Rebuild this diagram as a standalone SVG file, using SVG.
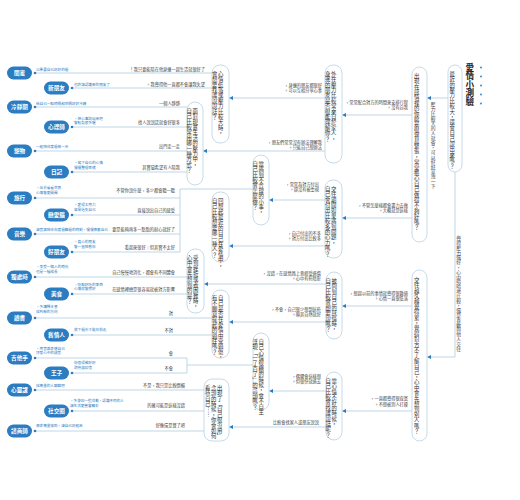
<svg xmlns="http://www.w3.org/2000/svg" width="520" height="500" viewBox="0 0 520 500">
<defs>
<marker id="arr" markerWidth="4" markerHeight="4" refX="3.6" refY="2" orient="auto" markerUnits="userSpaceOnUse">
<path d="M0,0 L4,2 L0,4 z" fill="#2b7cc1"/>
</marker>
<style>
text{font-family:"Noto Sans CJK TC","Noto Sans CJK SC","Noto Sans",sans-serif;}
.ln{fill:none;stroke:#aecbe1;stroke-width:0.8;}
.ar{marker-end:url(#arr);}
.nd{fill:#fff;stroke:#b7d0e3;stroke-width:0.8;}
.v{writing-mode:vertical-rl;font-size:5.4px;fill:#333;transform:translate(-2.7px,0);}
.vl{writing-mode:vertical-rl;font-size:4.8px;fill:#444;transform:translate(-2.4px,0);}
.r{direction:rtl;unicode-bidi:bidi-override;}
.lb{font-size:4.2px;fill:#444;}
.bl{font-size:3.6px;fill:#2b7cc1;}
.bd{fill:#2b7cc1;}
.bt{font-size:5.6px;font-weight:bold;fill:#fff;text-anchor:middle;}
.dot{fill:#2b7cc1;}
.title{writing-mode:vertical-rl;font-size:8.6px;font-weight:bold;fill:#222;transform:translate(-4.3px,0);}
</style>
</defs>
<rect width="520" height="500" fill="#fff"/>

<g id="title">
<text class="title" x="474" y="63">愛情小測驗</text>
<circle class="dot" cx="481" cy="67.5" r="0.9"/>
<circle class="dot" cx="481" cy="76.5" r="0.9"/>
<circle class="dot" cx="481" cy="85.5" r="0.9"/>
<circle class="dot" cx="481" cy="94.5" r="0.9"/>
<circle class="dot" cx="481" cy="103.5" r="0.9"/>
</g>

<g id="connectors">
<path class="ln ar" d="M448,98 H427.5"/>
<path class="ln ar" d="M455,172 V357 H427.5"/>
<path class="ln ar" d="M412,115 H342.5"/>
<path class="ln ar" d="M412,218 H342.5"/>
<path class="ln ar" d="M412,306 H342.5"/>
<path class="ln ar" d="M412,411 H342.5"/>
<path class="ln ar" d="M325,98 H229.5"/>
<path class="ln ar" d="M325,151 H203.5"/>
<path class="ln ar" d="M325,200 H269.5"/>
<path class="ln ar" d="M325,246 H229.5"/>
<path class="ln ar" d="M326,284 H204.5"/>
<path class="ln ar" d="M326,322 H229.5"/>
<path class="ln ar" d="M326,391 H269.5"/>
<path class="ln ar" d="M326,427 H229.5"/>
<path class="ln" d="M212,73 H35 M212,88 H72"/>
<path class="ln" d="M187,107 H35 M187,127 H72 M187,151 H35 M187,172 H72"/>
<path class="ln" d="M253,189 H180 V252 M180,198 H35 M180,215 H72 M180,234 H35 M180,252 H72"/>
<path class="ln" d="M187,277 H35 M187,294 H72"/>
<path class="ln" d="M212,318 H35 M212,335 H72"/>
<path class="ln" d="M253,365 H187 M187,358 V373 M187,358 H35 M187,373 H72"/>
<path class="ln" d="M204,390 H35 M204,411 H72 M204,431 H35"/>
<g class="dot">
<circle cx="35" cy="73" r="1.3"/><circle cx="72" cy="88" r="1.3"/>
<circle cx="35" cy="107" r="1.3"/><circle cx="72" cy="127" r="1.3"/>
<circle cx="35" cy="151" r="1.3"/><circle cx="72" cy="172" r="1.3"/>
<circle cx="35" cy="198" r="1.3"/><circle cx="72" cy="215" r="1.3"/>
<circle cx="35" cy="234" r="1.3"/><circle cx="72" cy="252" r="1.3"/>
<circle cx="35" cy="277" r="1.3"/><circle cx="72" cy="294" r="1.3"/>
<circle cx="35" cy="318" r="1.3"/><circle cx="72" cy="335" r="1.3"/>
<circle cx="35" cy="358" r="1.3"/><circle cx="72" cy="373" r="1.3"/>
<circle cx="35" cy="390" r="1.3"/><circle cx="72" cy="411" r="1.3"/>
<circle cx="35" cy="431" r="1.3"/>
</g>
<text class="vl" x="435.5" y="102">壓力比較大的人就會，可以好好宣洩一下</text>
<text class="vl" x="461" y="236">覺得壓力還好，心中暗暗地比較，還是喜歡與他人交往</text>
<g class="lb r">
<text x="408" y="104">常常配合對方的時間來安排行程，</text>
<text x="408" y="109">沒有自我。</text>
<text x="408" y="207">不管怎麼樣都會盡力去做，</text>
<text x="408" y="212">大概就是這樣。</text>
<text x="408" y="295">想起以前的事情就覺得很難過，</text>
<text x="408" y="300">心情一直很低落。</text>
<text x="408" y="400">一直都覺得很寂寞，</text>
<text x="408" y="406">不想被別人打擾。</text>
<text x="322" y="87">身邊的朋友都很好，</text>
<text x="322" y="92">可以互相分享心事。</text>
<text x="322" y="144">朋友們常常沒有辦法理解我，</text>
<text x="322" y="149">只能自己想辦法。</text>
<text x="319" y="186">常常為對方付出，</text>
<text x="319" y="191">卻沒有被重視。</text>
<text x="321" y="235">自己付出的不多，</text>
<text x="321" y="240">對方付出比較多。</text>
<text x="321" y="275">沒錯，在感情路上曾經受過傷，</text>
<text x="321" y="280">心中有些陰影。</text>
<text x="321" y="311">不會，自己很少想到這些，</text>
<text x="321" y="316">順其自然就好。</text>
<text x="321" y="378">偶爾會這樣想，</text>
<text x="321" y="383">但很快就過去。</text>
<text x="319" y="424">比較會找家人或朋友說說</text>
<text x="205" y="70.5">我只要能陪在他身邊一起生活就很好了！</text>
<text x="205" y="85.5">我覺得他一直都不會讓我失望。</text>
<text x="180" y="104.5">一個人靜靜</text>
<text x="180" y="124">找人說說話就會好很多</text>
<text x="180" y="148">出門走一走</text>
<text x="180" y="169">其實蠻希望有人陪我</text>
<text x="175" y="192">不管你說什麼，多少都會聽一聽</text>
<text x="175" y="212">直接說出自己的感受</text>
<text x="175" y="231">要是能夠再多一點點的耐心就好了</text>
<text x="175" y="249">看起來很好｜但其實不太好</text>
<text x="175" y="274">自己慢慢地消化，都會有不同體會</text>
<text x="175" y="291">在感情裡總是很容易就被對方影響</text>
<text x="173" y="315">對</text>
<text x="173" y="332">不對</text>
<text x="173" y="355">會</text>
<text x="173" y="370">不會</text>
<text x="185" y="387">不是，我只是比較倒楣</text>
<text x="185" y="407">的確可能是這樣沒錯</text>
<text x="185" y="427">好像還是算了吧</text>
</g>
<g class="bl r" text-anchor="end">
<text x="36" y="70.5">以後要自己好好的過</text>
<text x="74" y="85.5">也許該認識新的朋友了</text>
<text x="36" y="104.5">給自己一點時間和空間好好冷靜</text>
<text x="74" y="120">把心事說出來吧，</text>
<text x="74" y="124">會輕鬆很多喔</text>
<text x="36" y="148">一起陪伴度過每一天</text>
<text x="74" y="164">寫下自己的心情，</text>
<text x="74" y="168.5">慢慢整理思緒</text>
<text x="36" y="189">出去看看世界，</text>
<text x="36" y="193.5">心情會更開闊</text>
<text x="74" y="206">愛得太用力，</text>
<text x="74" y="210.5">容易迷失自己</text>
<text x="36" y="231">讓音樂陪伴你度過難過的時刻，慢慢療癒自己</text>
<text x="74" y="243">真心的朋友，</text>
<text x="74" y="247.5">會一直陪著你</text>
<text x="36" y="268">享受一個人的時光，</text>
<text x="36" y="272.5">也是一種成長</text>
<text x="74" y="285.5">吃點好吃的東西，</text>
<text x="74" y="290">心情就會變好</text>
<text x="36" y="308">多讀幾本書，</text>
<text x="36" y="312.5">找到新的方向</text>
<text x="74" y="331">放下過去才能往前走</text>
<text x="36" y="349.5">用音樂表達自己，</text>
<text x="36" y="354">抒發心中的感受</text>
<text x="74" y="364">你值得被好好</text>
<text x="74" y="368.5">對待與珍惜</text>
<text x="36" y="387">找專業的人聊聊吧</text>
<text x="70" y="402">多參加一些活動，認識不同的人，</text>
<text x="70" y="406.5">讓生活更豐富精彩</text>
<text x="36" y="427">尋求專業協助，讓自己好起來</text>
</g>
</g>

<g id="nodeA"><rect class="nd" x="448" y="65" width="14" height="107" rx="7"/><text class="v" x="455" y="71">最近的壓力比較大，還會自己說出來嗎？</text></g>
<g id="nodeB"><rect class="nd" x="412" y="67" width="15" height="175" rx="7.5"/><text class="v" x="419.5" y="73">出現在感情裡的你總是很容易緊張，常常擔心自己做得不夠好嗎？</text></g>
<g id="nodeC"><rect class="nd" x="412" y="270" width="15" height="171" rx="7.5"/><text class="v" x="419.5" y="277">交往越久越覺得累，覺得對方不了解自己，心中會先想到別人嗎？</text></g>
<g id="nodeD"><rect class="nd" x="325" y="65" width="17" height="98" rx="8"/><text class="v" x="336.5" y="71">外在壓力比較常來自於家人，</text><text class="v" x="330.5" y="71">身邊的朋友是否很能理解你？</text></g>
<g id="nodeE"><rect class="nd" x="325" y="180" width="17" height="78" rx="8"/><text class="v" x="336.5" y="186">交往期間如果遇到問題，</text><text class="v" x="330.5" y="186">自己會付出比較多的心力嗎？</text></g>
<g id="nodeF"><rect class="nd" x="326" y="272" width="16" height="67" rx="8"/><text class="v" x="337" y="278">被問到自己的感情時，</text><text class="v" x="331" y="278">自己比較會想要說嗎？</text></g>
<g id="nodeG"><rect class="nd" x="326" y="372" width="16" height="68" rx="8"/><text class="v" x="337" y="378">當心情不好的時候，</text><text class="v" x="331" y="378">自己比較會找誰說話呢？</text></g>
<g id="nodeH"><rect class="nd" x="212" y="65" width="17" height="78" rx="8"/><text class="v" x="223.5" y="71">心情低落或壓力比較大時，</text><text class="v" x="217.5" y="71">會想要找誰說說話？</text></g>
<g id="nodeI"><rect class="nd" x="187" y="102" width="16" height="83" rx="8"/><text class="v" x="198" y="108">面對現實生活的壓力中，</text><text class="v" x="192" y="108">自己比較常用哪一種方式？</text></g>
<g id="nodeJ"><rect class="nd" x="253" y="155" width="16" height="70" rx="8"/><text class="v" x="264" y="161">當遇到不合理的小事，</text><text class="v" x="258" y="161">自己比較會怎麼做？</text></g>
<g id="nodeK"><rect class="nd" x="212" y="192" width="17" height="70" rx="8"/><text class="v" x="223.5" y="198">回想起最近的自己在愛情中，</text><text class="v" x="217.5" y="198">自己比較想要哪一種人？</text></g>
<g id="nodeL"><rect class="nd" x="187" y="249" width="17" height="64" rx="8"/><text class="v" x="198.5" y="255">受到挫折或者困難時，</text><text class="v" x="192.5" y="255">心中會先想到的是？</text></g>
<g id="nodeM"><rect class="nd" x="212" y="290" width="17" height="68" rx="8"/><text class="v" x="223.5" y="295">自己是否在愛情中受過傷，</text><text class="v" x="217.5" y="295">有不願意提起的過往嗎？</text></g>
<g id="nodeN"><rect class="nd" x="253" y="333" width="16" height="77" rx="8"/><text class="v" x="264" y="339">自己心情很糟的時候，會不自主</text><text class="v" x="258" y="339">浮現「一了百了」的念頭嗎？</text></g>
<g id="nodeO"><rect class="nd" x="204" y="379" width="25" height="62" rx="8"/><text class="v" x="222.5" y="385">出現了「自己很沒用」</text><text class="v" x="216.5" y="385">念頭的時候，你會如何</text><text class="v" x="210.5" y="385">看待自己……</text></g>

<g id="r1"><rect class="bd" x="7" y="66.5" width="25" height="13" rx="6.5"/><text class="bt" x="19.5" y="75">閨蜜</text></g>
<g id="r2"><rect class="bd" x="44" y="81.5" width="25" height="13" rx="6.5"/><text class="bt" x="56.5" y="90">新朋友</text></g>
<g id="r3"><rect class="bd" x="7" y="100.5" width="25" height="13" rx="6.5"/><text class="bt" x="19.5" y="109">冷靜期</text></g>
<g id="r4"><rect class="bd" x="44" y="120.5" width="25" height="13" rx="6.5"/><text class="bt" x="56.5" y="129">心理師</text></g>
<g id="r5"><rect class="bd" x="7" y="144.5" width="25" height="13" rx="6.5"/><text class="bt" x="19.5" y="153">寵物</text></g>
<g id="r6"><rect class="bd" x="44" y="165.5" width="25" height="13" rx="6.5"/><text class="bt" x="56.5" y="174">日記</text></g>
<g id="r7"><rect class="bd" x="7" y="191.5" width="25" height="13" rx="6.5"/><text class="bt" x="19.5" y="200">旅行</text></g>
<g id="r8"><rect class="bd" x="44" y="208.5" width="25" height="13" rx="6.5"/><text class="bt" x="56.5" y="217">戀愛腦</text></g>
<g id="r9"><rect class="bd" x="7" y="227.5" width="25" height="13" rx="6.5"/><text class="bt" x="19.5" y="236">音樂</text></g>
<g id="r10"><rect class="bd" x="44" y="245.5" width="25" height="13" rx="6.5"/><text class="bt" x="56.5" y="254">好朋友</text></g>
<g id="r11"><rect class="bd" x="7" y="270.5" width="25" height="13" rx="6.5"/><text class="bt" x="19.5" y="279">獨處時</text></g>
<g id="r12"><rect class="bd" x="44" y="287.5" width="25" height="13" rx="6.5"/><text class="bt" x="56.5" y="296">美食</text></g>
<g id="r13"><rect class="bd" x="7" y="311.5" width="25" height="13" rx="6.5"/><text class="bt" x="19.5" y="320">讀書</text></g>
<g id="r14"><rect class="bd" x="44" y="328.5" width="25" height="13" rx="6.5"/><text class="bt" x="56.5" y="337">舊情人</text></g>
<g id="r15"><rect class="bd" x="7" y="351.5" width="25" height="13" rx="6.5"/><text class="bt" x="19.5" y="360">吉他手</text></g>
<g id="r16"><rect class="bd" x="44" y="366.5" width="25" height="13" rx="6.5"/><text class="bt" x="56.5" y="375">王子</text></g>
<g id="r17"><rect class="bd" x="7" y="383.5" width="25" height="13" rx="6.5"/><text class="bt" x="19.5" y="392">心靈課</text></g>
<g id="r18"><rect class="bd" x="44" y="404.5" width="25" height="13" rx="6.5"/><text class="bt" x="56.5" y="413">社交圈</text></g>
<g id="r19"><rect class="bd" x="7" y="424.5" width="25" height="13" rx="6.5"/><text class="bt" x="19.5" y="433">諮商師</text></g>
</svg>
